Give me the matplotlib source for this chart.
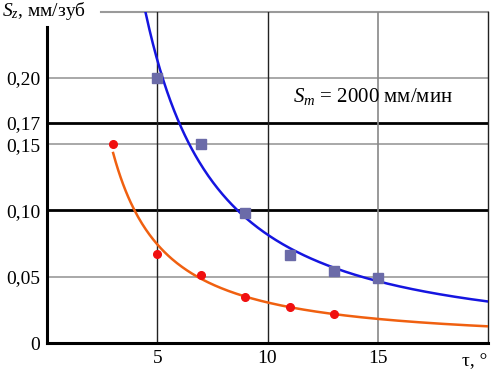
import numpy as np
import matplotlib
matplotlib.use("Agg")
import matplotlib.pyplot as plt

# Data
tau_blue = [5, 7, 9, 11, 13, 15]
sz_blue = [0.200, 0.150, 0.098, 0.066, 0.054, 0.049]
tau_red = [3, 5, 7, 9, 11, 13]
sz_red = [0.150, 0.067, 0.051, 0.035, 0.027, 0.022]
ytick_vals = [0, 0.05, 0.10, 0.15, 0.166, 0.20]
ytick_labels = ["0", "0,05", "0,10", "0,15", "0,17", "0,20"]
xtick_vals = [5, 10, 15]
xtick_labels = ["5", "10", "15"]

plt.rcParams['font.family'] = ['Liberation Serif', 'DejaVu Serif']
plt.rcParams['mathtext.fontset'] = 'custom'
plt.rcParams['mathtext.rm'] = 'Liberation Serif'
plt.rcParams['mathtext.it'] = 'Liberation Serif:italic'

fig = plt.figure(figsize=(4.94, 3.74), dpi=100)
ax = fig.add_axes([47/494, 1-343/374, 441/494, (343-11.5)/374])
ax.set_xlim(0, 20)
ax.set_ylim(0, 0.25)

def power_fit(x, y):
    b, lna = np.polyfit(np.log(x), np.log(y), 1)
    return np.exp(lna), b

# grid lines
gray = '#9a9a9a'
for yv in [0.05, 0.15, 0.20]:
    ax.axhline(yv, color=gray, lw=1.2, zorder=1)
for yv in [0.10, 0.166]:
    ax.axhline(yv, color='black', lw=2.0, zorder=1)
ax.plot([2.45, 20], [0.25, 0.25], color=gray, lw=1.5, clip_on=False, zorder=1)
ax.axvline(5, color='#222222', lw=1.0, zorder=1)
ax.axvline(10, color='#222222', lw=1.0, zorder=1)
ax.axvline(15, color='#888888', lw=1.2, zorder=1)

# fitted curves
a, b = power_fit(tau_blue, sz_blue)
xs = np.linspace(4.0, 20, 300)
ax.plot(xs, a * xs**b, color='#1515e0', lw=1.8, zorder=3)
a2, b2 = power_fit(tau_red, sz_red)
xs2 = np.linspace(3, 20, 300)
ax.plot(xs2, a2 * xs2**b2, color='#f06010', lw=1.8, zorder=3)

ax.plot(tau_blue, sz_blue, 's', color='#6b6ba8', ms=6.5, zorder=4)
ax.plot(tau_red, sz_red, 'o', color='#f01010', ms=5.5, zorder=4)

# spines
ax.spines['top'].set_visible(False)
ax.spines['right'].set_linewidth(1.0)
ax.spines['right'].set_color('#222222')
ax.spines['left'].set_linewidth(2.2)
ax.spines['bottom'].set_linewidth(2.2)
ax.spines['left'].set_bounds(0, 0.238)

ax.set_yticks(ytick_vals)
ax.set_yticklabels(ytick_labels)
ax.set_xticks(xtick_vals)
ax.set_xticklabels(xtick_labels)
ax.tick_params(length=0, labelsize=14, pad=5)

ax.text(-2.05, 0.25, r"$S_{z}$, мм/зуб", fontsize=14, ha='left', va='center', clip_on=False)
ax.text(19.95, -0.0075, "τ, °", fontsize=14, ha='right', va='top', clip_on=False)
ax.text(14.8, 0.186, r"$S_{m}$ = 2000 мм/мин", fontsize=15, ha='center', va='center')

fig.savefig("out.png", dpi=100)
